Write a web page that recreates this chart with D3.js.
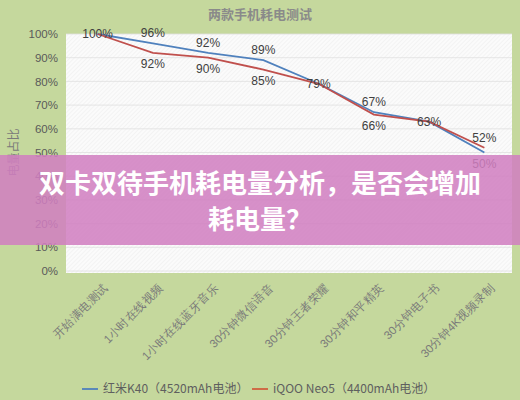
<!DOCTYPE html>
<html>
<head>
<meta charset="utf-8">
<script src="https://cdn.jsdelivr.net/npm/d3@7"></script>
<style>
  body { margin: 0; background: #c5d89d; }
  svg { display: block; font-family: "Noto Sans CJK SC", "Liberation Sans", sans-serif; }
</style>
</head>
<body>
<svg width="520" height="400"></svg>
<script>
const categories = ["开始满电测试", "1小时在线视频", "1小时在线蓝牙音乐", "30分钟微信语音",
  "30分钟王者荣耀", "30分钟和平精英", "30分钟电子书", "30分钟4K视频录制"];
const redmi = [1.00, 0.96, 0.92, 0.89, 0.79, 0.67, 0.63, 0.50];
const iqoo = [1.00, 0.92, 0.90, 0.85, 0.79, 0.66, 0.63, 0.52];
const seriesNames = ["红米K40（4520mAh电池）", "iQOO Neo5（4400mAh电池）"];
const yTicks = [0, 0.1, 0.2, 0.3, 0.4, 0.5, 0.6, 0.7, 0.8, 0.9, 1.0];

const svg = d3.select("svg"),
      width = +svg.attr("width"),
      height = +svg.attr("height");

const plot = { left: 70, right: 512, top: 34, bottom: 271 };
const colors = ["#4f81bd", "#c0504d"];

const x = d3.scalePoint().domain(categories).range([plot.left, plot.right]).padding(0.5);
const y = d3.scaleLinear().domain([0, 1]).range([plot.bottom, plot.top]);

// hatched plot background
const defs = svg.append("defs");
const pat = defs.append("pattern")
  .attr("id", "hatch").attr("width", 3).attr("height", 3)
  .attr("patternUnits", "userSpaceOnUse")
  .attr("patternTransform", "rotate(45)");
pat.append("rect").attr("width", 3).attr("height", 3).attr("fill", "#fbfbfb");
pat.append("line").attr("x1", 0).attr("y1", 0).attr("x2", 0).attr("y2", 3)
  .attr("stroke", "#ececec").attr("stroke-width", 1);

svg.append("rect")
  .attr("x", plot.left - 4).attr("y", plot.top)
  .attr("width", plot.right - plot.left + 4).attr("height", plot.bottom - plot.top + 2)
  .attr("fill", "url(#hatch)");

// gridlines
svg.append("g")
  .selectAll("line")
  .data(yTicks)
  .enter().append("line")
  .attr("x1", plot.left - 4).attr("x2", plot.right)
  .attr("y1", d => y(d)).attr("y2", d => y(d))
  .attr("stroke", "#e0e0e0").attr("stroke-width", 0.8);

// title
svg.append("text")
  .attr("x", 260).attr("y", 19)
  .attr("text-anchor", "middle")
  .attr("font-size", 13).attr("font-weight", "bold")
  .attr("fill", "#8a8a8a")
  .text("两款手机耗电测试");

// y axis
const yAxis = svg.append("g")
  .attr("transform", `translate(${plot.left - 6},0)`)
  .call(d3.axisLeft(y).tickValues(yTicks).tickFormat(d3.format(".0%")).tickSize(0).tickPadding(6));
yAxis.select(".domain").remove();
yAxis.selectAll("text")
  .attr("font-family", "'Liberation Sans', sans-serif")
  .attr("font-size", 11.5).attr("fill", "#5a5a5a");

svg.append("text")
  .attr("transform", `translate(18,${(plot.top + plot.bottom) / 2}) rotate(-90)`)
  .attr("text-anchor", "middle")
  .attr("font-size", 12).attr("fill", "#7a7a7a")
  .text("电量占比");

// x axis labels
const xAxis = svg.append("g")
  .attr("transform", `translate(0,${plot.bottom + 10})`)
  .call(d3.axisBottom(x).tickSize(0).tickPadding(0));
xAxis.select(".domain").remove();
xAxis.selectAll("text")
  .attr("font-size", 11.5).attr("fill", "#7a7a7a")
  .attr("text-anchor", "end")
  .attr("dy", "0.3em")
  .attr("transform", "translate(8,5) rotate(-45)");

// lines
const series = [redmi, iqoo];
const line = d3.line().x((d, i) => x(categories[i])).y(d => y(d));

svg.append("g")
  .selectAll("path")
  .data(series)
  .enter().append("path")
  .attr("d", line)
  .attr("fill", "none")
  .attr("stroke", (d, i) => colors[i])
  .attr("stroke-width", 1.8);

// data labels: higher value above, lower below, equal centred on point
const labels = [];
categories.forEach((c, i) => {
  const a = redmi[i], b = iqoo[i];
  if (a === b) {
    labels.push({ c, v: a, pos: "mid" });
  } else {
    labels.push({ c, v: a, pos: a > b ? "above" : "below" });
    labels.push({ c, v: b, pos: b > a ? "above" : "below" });
  }
});

svg.append("g")
  .selectAll("text")
  .data(labels)
  .enter().append("text")
  .attr("x", d => x(d.c))
  .attr("y", d => y(d.v) + (d.pos === "above" ? -6 : d.pos === "below" ? 15 : 4))
  .attr("text-anchor", "middle")
  .attr("font-family", "'Liberation Sans', sans-serif")
  .attr("font-size", 12).attr("fill", "#404040")
  .text(d => d3.format(".0%")(d.v));

// legend
const legend = svg.append("g").attr("transform", "translate(82,389)");
const lx = [0, 170];
seriesNames.forEach((name, i) => {
  const g = legend.append("g").attr("transform", `translate(${lx[i]},0)`);
  g.append("line").attr("x1", 0).attr("x2", 16).attr("y1", 0).attr("y2", 0)
    .attr("stroke", i === 0 ? colors[0] : "#d0603e").attr("stroke-width", 1.8);
  g.append("text").attr("x", 21).attr("y", 4)
    .attr("font-size", 12).attr("fill", "#5f5f5f")
    .text(name);
});

// overlay banner
svg.append("rect")
  .attr("x", 0).attr("y", 155).attr("width", width).attr("height", 90)
  .attr("fill", "#d07ec0").attr("opacity", 0.86);

const banner = svg.append("text")
  .attr("text-anchor", "middle")
  .attr("font-size", 26).attr("font-weight", "bold")
  .attr("fill", "#ffffff");
banner.append("tspan").attr("x", 260).attr("y", 193).text("双卡双待手机耗电量分析，是否会增加");
banner.append("tspan").attr("x", 260).attr("y", 229).text("耗电量？");
</script>
</body>
</html>
